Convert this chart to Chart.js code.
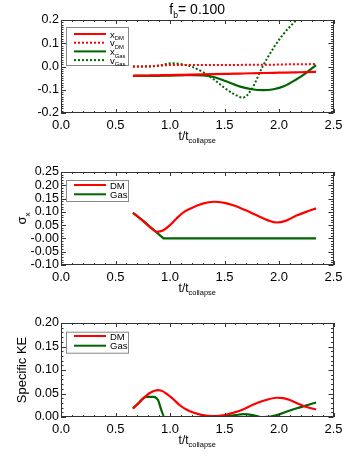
<!DOCTYPE html>
<html>
<head>
<meta charset="utf-8">
<script src="https://cdn.jsdelivr.net/npm/chart.js@4.4.1/dist/chart.umd.min.js"></script>
<style>
  body { margin: 0; background: #fff; }
  .panel { position: absolute; left: 0; width: 354px; height: 152px; }
</style>
</head>
<body>
<div class="panel" style="top:0px"><canvas id="c1" width="354" height="152"></canvas></div>
<div class="panel" style="top:152px"><canvas id="c2" width="354" height="152"></canvas></div>
<div class="panel" style="top:303px"><canvas id="c3" width="354" height="153"></canvas></div>
<script>
// top panel: positions / velocities
const tKin = [0.66, 0.75, 0.8, 0.85, 0.9, 0.95, 1.0, 1.1, 1.2, 1.3, 1.4, 1.5, 1.6, 1.67, 1.75, 1.85, 1.95, 2.05, 2.15, 2.25, 2.34];
const xDM  = [-0.040, -0.039, -0.039, -0.038, -0.038, -0.037, -0.037, -0.036, -0.035, -0.034, -0.033, -0.032, -0.031, -0.030, -0.029, -0.028, -0.027, -0.026, -0.025, -0.024, -0.023];
const vDM  = [0.0, 0.0, 0.001, 0.002, 0.004, 0.005, 0.006, 0.006, 0.006, 0.006, 0.006, 0.006, 0.006, 0.007, 0.007, 0.008, 0.008, 0.009, 0.010, 0.010, 0.011];
const xGas = [-0.040, -0.040, -0.040, -0.040, -0.040, -0.039, -0.039, -0.038, -0.037, -0.038, -0.045, -0.061, -0.079, -0.090, -0.098, -0.102, -0.098, -0.084, -0.058, -0.027, 0.006];
const vGas = [0.0, 0.0, 0.0, 0.001, 0.003, 0.009, 0.014, 0.011, -0.001, -0.024, -0.055, -0.092, -0.122, -0.134, -0.097, 0.0, 0.080, 0.145, 0.195, 0.240, 0.280];

// middle panel: dispersion
const tSigDM  = [0.66, 0.7, 0.76, 0.82, 0.88, 0.94, 1.0, 1.06, 1.12, 1.19, 1.3, 1.4, 1.5, 1.58, 1.7, 1.79, 1.9, 1.98, 2.06, 2.16, 2.25, 2.34];
const sigDM   = [0.096, 0.084, 0.063, 0.041, 0.025, 0.031, 0.050, 0.075, 0.097, 0.113, 0.131, 0.138, 0.134, 0.125, 0.105, 0.088, 0.068, 0.060, 0.066, 0.086, 0.100, 0.113];
const tSigGas = [0.66, 0.76, 0.82, 0.94, 1.5, 2.34];
const sigGas  = [0.096, 0.064, 0.043, 0.0, 0.0, 0.0];

// bottom panel: specific kinetic energy
const tKeDM  = [0.66, 0.72, 0.78, 0.84, 0.89, 0.94, 0.97, 1.03, 1.09, 1.15, 1.22, 1.3, 1.4, 1.5, 1.58, 1.67, 1.76, 1.85, 1.98, 2.04, 2.1, 2.16, 2.23, 2.34];
const keDM   = [0.018, 0.031, 0.045, 0.054, 0.057, 0.054, 0.049, 0.038, 0.025, 0.016, 0.009, 0.004, 0.002, 0.004, 0.009, 0.016, 0.026, 0.034, 0.041, 0.040, 0.036, 0.030, 0.023, 0.016];
const tKeGas = [0.66, 0.72, 0.78, 0.85, 0.89, 0.92, 0.95, 1.1, 1.3, 1.49, 1.6, 1.67, 1.76, 1.85, 1.92, 1.98, 2.1, 2.2, 2.34];
const keGas  = [0.018, 0.032, 0.043, 0.043, 0.036, 0.015, 0.0, 0.0, 0.0, 0.001, 0.004, 0.006, 0.004, -0.001, 0.001, 0.004, 0.014, 0.021, 0.031];

const RED = '#ff0000';
const GREEN = '#006400';
const FONT = 'Liberation Sans';

function pts(t, v) {
  return t.map((x, i) => ({ x: x, y: v[i] }));
}

function drawSub(ctx, parts, x, y, size, align) {
  let w = parts.map(p => {
    ctx.font = (p[1] ? size * 0.62 : size) + 'px "' + FONT + '"';
    return ctx.measureText(p[0]).width;
  });
  let total = w.reduce((a, b) => a + b, 0);
  let cx = align == 'center' ? x - total / 2 : x;
  ctx.textAlign = 'left';
  ctx.textBaseline = 'alphabetic';
  parts.forEach((p, i) => {
    ctx.font = (p[1] ? size * 0.62 : size) + 'px "' + FONT + '"';
    ctx.fillText(p[0], cx, p[1] ? y + size * 0.28 : y);
    cx += w[i];
  });
}

// IDL style box: inside ticks on all sides, legend, titles with subscripts
const idlFrame = {
  id: 'idlFrame',
  afterDraw(chart, args, o) {
    const ctx = chart.ctx, a = chart.chartArea;
    const x = chart.scales.x, y = chart.scales.y;
    ctx.save();
    ctx.strokeStyle = '#333';
    ctx.lineWidth = 1;
    ctx.strokeRect(Math.round(a.left) + 0.5, Math.round(a.top) + 0.5, Math.round(a.right - a.left) - 1, Math.round(a.bottom - a.top) - 1);

    function seg(x1, y1, x2, y2) {
      ctx.beginPath(); ctx.moveTo(x1, y1); ctx.lineTo(x2, y2); ctx.stroke();
    }
    let n = Math.round((x.max - x.min) / o.xMinor);
    for (let i = 0; i <= n; i++) {
      let v = x.min + i * o.xMinor;
      let major = Math.abs(v / o.xMajor - Math.round(v / o.xMajor)) < 1e-6;
      let px = Math.round(x.getPixelForValue(v)) + 0.5;
      let len = major ? 4 : 2;
      seg(px, a.bottom, px, a.bottom - len);
      seg(px, a.top, px, a.top + len);
    }
    n = Math.round((y.max - y.min) / o.yMinor);
    for (let i = 0; i <= n; i++) {
      let v = y.min + i * o.yMinor;
      let major = Math.abs(v / o.yMajor - Math.round(v / o.yMajor)) < 1e-6;
      let py = Math.round(y.getPixelForValue(v)) + 0.5;
      let len = major ? 5 : 2.5;
      seg(a.left, py, a.left + len, py);
      seg(a.right, py, a.right - len, py);
    }

    ctx.fillStyle = '#000';
    let midX = (a.left + a.right) / 2;
    if (o.title) drawSub(ctx, o.title, midX, 14, 14, 'center');
    drawSub(ctx, [['t/t', 0], ['collapse', 1]], midX, a.bottom + 27, 12, 'center');
    if (o.ytitle) {
      ctx.save();
      ctx.translate(26, (a.top + a.bottom) / 2);
      ctx.rotate(-Math.PI / 2);
      drawSub(ctx, o.ytitle, 0, 0, 13, 'center');
      ctx.restore();
    }

    // legend
    let lg = o.legend;
    ctx.strokeStyle = '#888';
    ctx.strokeRect(66.5, lg.top + 0.5, 62, lg.height);
    lg.items.forEach((it, i) => {
      let ly = lg.first + i * lg.step;
      ctx.strokeStyle = it.color;
      ctx.lineWidth = 2;
      ctx.setLineDash(it.dash || []);
      seg(74, ly, 106, ly);
      ctx.setLineDash([]);
      ctx.fillStyle = '#000';
      drawSub(ctx, it.label, 110, ly + 3.5, 9.5, 'left');
    });
    ctx.restore();
  }
};

function makeChart(id, datasets, yMin, yMax, yStep, yDigits, frame) {
  return new Chart(document.getElementById(id), {
    type: 'line',
    data: { datasets: datasets },
    options: {
      responsive: false,
      animation: false,
      devicePixelRatio: 1,
      layout: { padding: { top: 20, right: 20.5, left: 0, bottom: 0 } },
      plugins: { legend: { display: false }, tooltip: { enabled: false }, idlFrame: frame },
      elements: { point: { radius: 0 }, line: { cubicInterpolationMode: 'monotone', borderWidth: 2.2 } },
      scales: {
        x: {
          type: 'linear', min: 0, max: 2.5,
          grid: { display: false, drawTicks: false },
          border: { display: false },
          ticks: { stepSize: 0.5, autoSkip: false, maxRotation: 0, padding: 5, color: '#000',
                   font: { family: FONT, size: 13 }, callback: v => v.toFixed(1) },
          afterFit: s => { s.height = 39; }
        },
        y: {
          min: yMin, max: yMax,
          grid: { display: false, drawTicks: false },
          border: { display: false },
          ticks: { stepSize: yStep, autoSkip: false, padding: 2, color: '#000',
                   font: { family: FONT, size: 12.5 }, callback: v => v.toFixed(yDigits) },
          afterFit: s => { s.width = 61; }
        }
      }
    },
    plugins: [idlFrame]
  });
}

makeChart('c1', [
  { data: pts(tKin, xDM), borderColor: RED },
  { data: pts(tKin, vDM), borderColor: RED, borderDash: [2, 2], borderWidth: 2 },
  { data: pts(tKin, xGas), borderColor: GREEN },
  { data: pts(tKin, vGas), borderColor: GREEN, borderDash: [2, 2], borderWidth: 2 }
], -0.2, 0.2, 0.1, 1, {
  xMinor: 0.1, xMajor: 0.5, yMinor: 0.01, yMajor: 0.1,
  title: [['f', 0], ['b', 1], ['= 0.100', 0]],
  legend: { top: 27, height: 38, first: 34, step: 8.7, items: [
    { label: [['x', 0], ['DM', 1]], color: RED },
    { label: [['v', 0], ['DM', 1]], color: RED, dash: [2, 2] },
    { label: [['x', 0], ['Gas', 1]], color: GREEN },
    { label: [['v', 0], ['Gas', 1]], color: GREEN, dash: [2, 2] }
  ] }
});

makeChart('c2', [
  { data: pts(tSigDM, sigDM), borderColor: RED },
  { data: pts(tSigGas, sigGas), borderColor: GREEN, cubicInterpolationMode: 'default', tension: 0 }
], -0.1, 0.25, 0.05, 2, {
  xMinor: 0.1, xMajor: 0.5, yMinor: 0.01, yMajor: 0.05,
  ytitle: [['\u03c3', 0], ['x', 1]],
  legend: { top: 28, height: 21, first: 33, step: 9.3, items: [
    { label: [['DM', 0]], color: RED },
    { label: [['Gas', 0]], color: GREEN }
  ] }
});

makeChart('c3', [
  { data: pts(tKeDM, keDM), borderColor: RED },
  { data: pts(tKeGas, keGas), borderColor: GREEN }
], 0, 0.2, 0.05, 2, {
  xMinor: 0.1, xMajor: 0.5, yMinor: 0.01, yMajor: 0.05,
  ytitle: [['Specific KE', 0]],
  legend: { top: 28.7, height: 21, first: 33, step: 9.7, items: [
    { label: [['DM', 0]], color: RED },
    { label: [['Gas', 0]], color: GREEN }
  ] }
});
</script>
</body>
</html>
